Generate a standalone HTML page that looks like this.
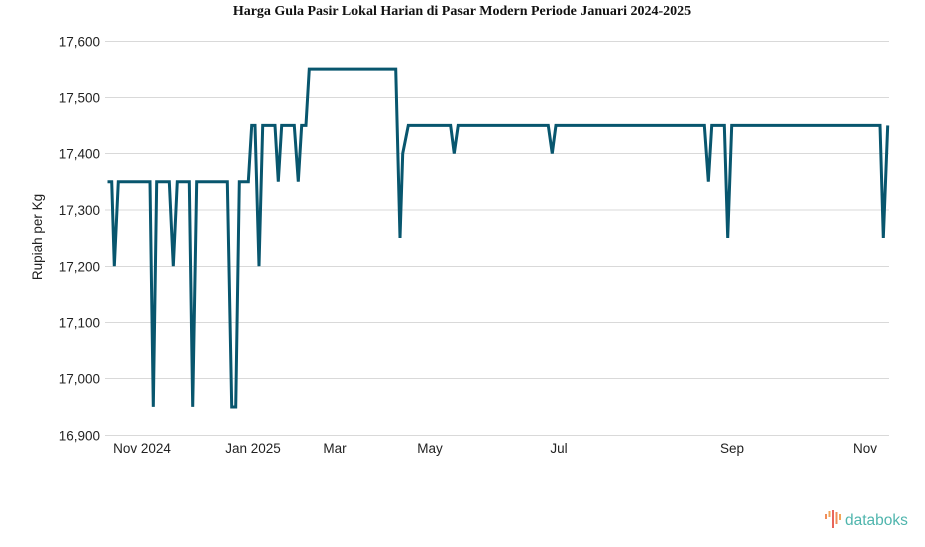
<!DOCTYPE html>
<html>
<head>
<meta charset="utf-8">
<style>
html,body{margin:0;padding:0;background:#fff;}
body{width:925px;height:547px;overflow:hidden;}
svg{display:block;}
</style>
</head>
<body>
<svg width="925" height="547" viewBox="0 0 925 547" xmlns="http://www.w3.org/2000/svg">
  <rect width="925" height="547" fill="#ffffff"/>
  <text x="462" y="15" text-anchor="middle" font-family="'Liberation Serif', serif" font-weight="bold" font-size="14" fill="#111">Harga Gula Pasir Lokal Harian di Pasar Modern Periode Januari 2024-2025</text>

  <g stroke="#d9d9d9" stroke-width="1">
    <line x1="105" y1="41.5" x2="889" y2="41.5"/>
    <line x1="105" y1="97.5" x2="889" y2="97.5"/>
    <line x1="105" y1="125.5" x2="105" y2="125.5"/>
    <line x1="105" y1="153.5" x2="889" y2="153.5"/>
    <line x1="105" y1="210" x2="889" y2="210"/>
    <line x1="105" y1="266.5" x2="889" y2="266.5"/>
    <line x1="105" y1="322.5" x2="889" y2="322.5"/>
    <line x1="105" y1="378.5" x2="889" y2="378.5"/>
    <line x1="105" y1="435.5" x2="889" y2="435.5"/>
  </g>

  <g font-family="'Liberation Sans', sans-serif" font-size="13.5" fill="#222" text-anchor="end">
    <text x="100" y="46.5">17,600</text>
    <text x="100" y="102.5">17,500</text>
    <text x="100" y="158.5">17,400</text>
    <text x="100" y="215">17,300</text>
    <text x="100" y="271.5">17,200</text>
    <text x="100" y="327.5">17,100</text>
    <text x="100" y="383.5">17,000</text>
    <text x="100" y="440.5">16,900</text>
  </g>

  <text transform="translate(42,237) rotate(-90)" text-anchor="middle" font-family="'Liberation Sans', sans-serif" font-size="13.5" fill="#222">Rupiah per Kg</text>

  <g font-family="'Liberation Sans', sans-serif" font-size="13.5" fill="#222" text-anchor="middle">
    <text x="142" y="453">Nov 2024</text>
    <text x="253" y="453">Jan 2025</text>
    <text x="335" y="453">Mar</text>
    <text x="430" y="453">May</text>
    <text x="559" y="453">Jul</text>
    <text x="732" y="453">Sep</text>
    <text x="865" y="453">Nov</text>
  </g>

  <polyline fill="none" stroke="#08566e" stroke-width="3" stroke-linejoin="miter" stroke-miterlimit="4"
    points="107.5,181.7 111.7,181.7 114.3,266.2 118.3,181.7 150,181.7 153.3,406.9 156.7,181.7 169.3,181.7 173.3,266.2 177.3,181.7 189.3,181.7 192.7,406.9 196.7,181.7 227.3,181.7 231.7,407 235.7,407 239.3,181.7 248.3,181.7 251.7,125.4 255,125.4 259,266.2 262.7,125.4 275,125.4 278.3,181.7 281.7,125.4 294.3,125.4 298.3,181.7 301.7,125.4 306,125.4 309.3,69.1 395.7,69.1 400,238 402.7,153.6 408.3,125.4 450.7,125.4 454.3,153.6 458.3,125.4 548.3,125.4 552.3,153.6 556,125.4 704.3,125.4 708.3,181.7 711.7,125.4 724.3,125.4 727.7,238 731.7,125.4 880,125.4 883.3,238 887.7,125.4"/>

  <!-- logo -->
  <g>
    <rect x="825" y="514" width="2" height="5" fill="#f08c5a"/>
    <rect x="828.5" y="511" width="2" height="6" fill="#f2a65a"/>
    <rect x="832" y="510" width="2" height="18" fill="#e8655a"/>
    <rect x="835.5" y="512" width="2" height="12" fill="#f08c5a"/>
    <rect x="839" y="514" width="2" height="6" fill="#f2a65a"/>
    <text x="845" y="525" font-family="'Liberation Sans', sans-serif" font-size="15.5" fill="#4fb5ad">databoks</text>
  </g>
</svg>
</body>
</html>
